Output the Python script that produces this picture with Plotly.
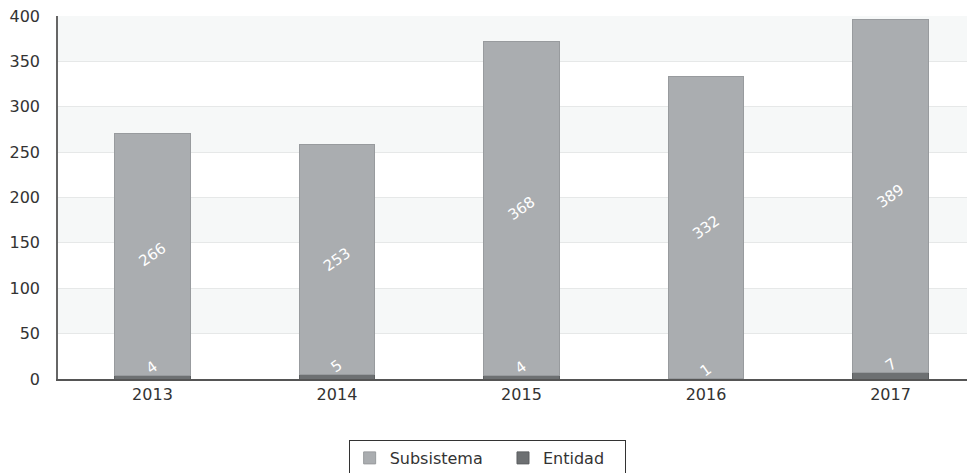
import plotly.graph_objects as go

# --- datos ---
years = ['2013', '2014', '2015', '2016', '2017']
subsistema = [266, 253, 368, 332, 389]
entidad = [4, 5, 4, 1, 7]
y_ticks = [0, 50, 100, 150, 200, 250, 300, 350, 400]

FONT = "DejaVu Sans"
C_SUB = '#aaadb0'
C_ENT = '#6d7072'
NB = '\u00a0'  # espacio para separar las entradas de la leyenda

fig = go.Figure()

# Entidad abajo (valores pequeños), Subsistema encima
fig.add_trace(go.Bar(
    x=years, y=entidad, name='Entidad' + NB * 3,
    marker=dict(color=C_ENT, line=dict(color='#5c5f61', width=1)),
    width=0.41, hoverinfo='y',
))
fig.add_trace(go.Bar(
    x=years, y=subsistema, name='Subsistema' + NB * 3,
    marker=dict(color=C_SUB, line=dict(color='#989b9e', width=1)),
    width=0.41,
    text=[str(v) for v in subsistema], textposition='inside',
    insidetextanchor='middle', textangle=-35,
    textfont=dict(color='white', size=15, family=FONT),
))

# etiquetas de Entidad (sobre la barrita oscura); x = índice de categoría
for i, v in enumerate(entidad):
    fig.add_annotation(x=i, y=v, xref='x', yref='y', text=str(v), showarrow=False,
                       yanchor='bottom', textangle=-35, yshift=-5,
                       font=dict(color='#ffffff', size=15, family=FONT))

# bandas alternas del fondo
for lo, hi in zip(y_ticks[:-1], y_ticks[1:]):
    if (lo // 50) % 2 == 1:
        fig.add_shape(type='rect', xref='paper', x0=0, x1=1, yref='y', y0=lo, y1=hi,
                      fillcolor='#f6f8f8', line=dict(width=0), layer='below')

# la página deja 8px de margen al cuerpo -> se compensa aquí
fig.update_layout(
    width=975, height=473,
    barmode='stack',
    plot_bgcolor='white', paper_bgcolor='white',
    margin=dict(l=50, r=8, t=8, b=102, autoexpand=False),
    font=dict(family=FONT, size=16, color='#333333'),
    showlegend=True,
    legend=dict(
        orientation='h', traceorder='reversed',
        x=0.468, xanchor='center', y=-0.168, yanchor='top',
        bordercolor='#333333', borderwidth=1, bgcolor='white',
        font=dict(size=16, family=FONT, color='#333333'),
    ),
)
fig.update_xaxes(
    type='category', range=[-0.512, 4.458], showgrid=False, automargin=False,
    showline=True, linecolor='#555555', linewidth=2,
    ticks='', tickfont=dict(size=16),
)
fig.update_yaxes(
    range=[0, 400], tickvals=y_ticks, automargin=False, ticklabeloverflow='allow',
    showgrid=True, gridcolor='#e6e8e8', gridwidth=1,
    showline=True, linecolor='#666666', linewidth=1.5,
    zeroline=False, ticks='', tickfont=dict(size=16), ticklabelstandoff=13,
)

fig.write_html("out.html")
